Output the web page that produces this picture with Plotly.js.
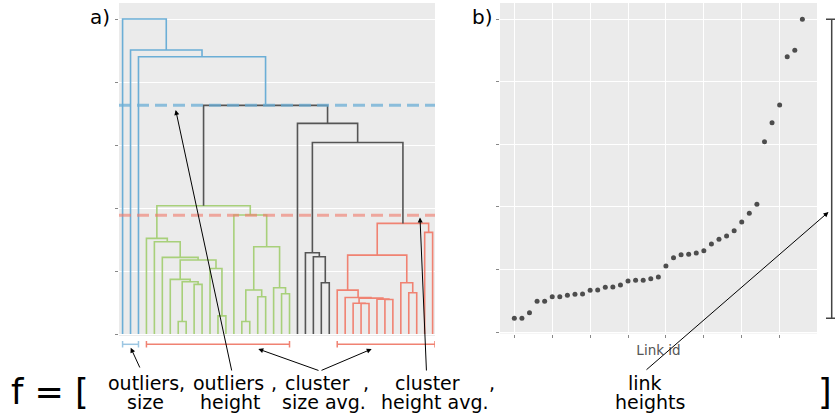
<!DOCTYPE html>
<html><head><meta charset="utf-8">
<script src="https://cdn.plot.ly/plotly-3.0.1.min.js"></script>
<style>html,body{margin:0;padding:0;background:#fff}</style>
</head><body><div id="chart" style="width:835px;height:418px"></div>
<script>
// ---- Panel a: dendrogram (hclust-style merges; negative = leaf position, positive = earlier merge id)
const mergeLeft   = [-8,-16,-13,-31,-30,-34,-33, 5,-29,-18,-21,-37,-28, 2,-20,-10,-36,-26, 1,-7,-12,20,-6,-25,13,-24,14,-5,-4,-39,25,-15,29,26,-23,33,-3,-2,-1];
const mergeRight  = [-9,-17,-14,-32,  4,-35,  6, 7,  8,-19,-22,-38,  9,10, 11,-11, 12,-27,16,19,  3,21,22, 18,17, 24,15,23,28,-40,30, 27,32,31, 34,35,36,37,38];
const mergeHeight = [0.20,0.20,0.29,0.485,0.49,0.55,0.555,0.571,0.582,0.593,0.64,0.656,0.698,0.70,0.735,0.789,0.815,0.815,0.831,0.868,1.042,1.175,1.217,1.228,1.254,1.29,1.386,1.465,1.519,1.614,1.757,1.889,2.037,3.04,3.344,3.63,4.40,4.508,5.0];
const mergeGroup  = ['g','g','g','r','r','r','r','r','r','g','g','r','r','g','g','g','r','k','g','g','g','g','g','k','r','k','g','g','g','r','r','g','g','k','k','k','b','b','b'];
const groupColor  = {b:'#6BAED6', g:'#A8D07A', r:'#F08272', k:'#555555'};
const outlierHeight = 3.63;
const clusterHeightAvg = 1.885;
const outlierSpan = [1, 3];
const clusterSpans = [[4, 22], [28, 40.3]];
const aTicks = [0,1,2,3,4,5];

// ---- Panel b: sorted link heights
const linkHeights = [0.219,0.219,0.308,0.49,0.49,0.564,0.564,0.586,0.602,0.607,0.666,0.671,0.714,0.719,0.751,0.815,0.826,0.826,0.851,0.879,1.054,1.187,1.235,1.241,1.262,1.299,1.406,1.481,1.534,1.618,1.757,1.896,2.04,3.04,3.344,3.626,4.398,4.5,4.995];
const linkId = linkHeights.map((_, i) => i + 1);
const bXTicks = [1,6,11,16,21,26,31,36];
const bYTicks = [0,1,2,3,4,5];

const W = 835, H = 418;
const px = x => x / W, py = y => 1 - y / H;

// build dendrogram segments
const nodeX = [], nodeH = [];
const segs = {};
for (const g in groupColor) segs[g] = {x: [], y: []};
function childPos(c) { return c < 0 ? [-c, 0] : [nodeX[c - 1], nodeH[c - 1]]; }
for (let i = 0; i < mergeLeft.length; i++) {
  const [xl, hl] = childPos(mergeLeft[i]);
  const [xr, hr] = childPos(mergeRight[i]);
  const h = mergeHeight[i];
  nodeX.push((xl + xr) / 2); nodeH.push(h);
  const s = segs[mergeGroup[i]];
  s.x.push(xl, xl, xr, xr, null);
  s.y.push(hl, h, h, hr, null);
}
const traces = [];
for (const g of ['g','r','k','b']) {
  traces.push({type:'scatter', mode:'lines', x: segs[g].x, y: segs[g].y, xaxis:'x', yaxis:'y',
    line:{color: groupColor[g], width:1.6}, hoverinfo:'skip', showlegend:false});
}
traces.push({type:'scatter', mode:'markers', x: linkId, y: linkHeights, xaxis:'x2', yaxis:'y2',
  marker:{color:'#4D4D4D', size:5}, hoverinfo:'skip', showlegend:false});

const shapes = [];
// dashed reference lines
shapes.push({type:'line', xref:'x domain', yref:'y', x0:0, x1:1, y0:outlierHeight, y1:outlierHeight,
  line:{color:'rgba(107,174,214,0.75)', width:3, dash:'12px,6px'}});
shapes.push({type:'line', xref:'x domain', yref:'y', x0:0, x1:1, y0:clusterHeightAvg, y1:clusterHeightAvg,
  line:{color:'rgba(240,120,105,0.6)', width:3, dash:'12px,6px'}});
// brackets under panel a
function bracket(x0, x1, color) {
  const yb = py(344.3);
  shapes.push({type:'line', xref:'x', yref:'paper', x0:x0, x1:x1, y0:yb, y1:yb, line:{color:color, width:1.5}});
  shapes.push({type:'line', xref:'x', yref:'paper', x0:x0, x1:x0, y0:py(341), y1:py(347.5), line:{color:color, width:1.5}});
  shapes.push({type:'line', xref:'x', yref:'paper', x0:x1, x1:x1, y0:py(341), y1:py(347.5), line:{color:color, width:1.5}});
}
bracket(outlierSpan[0], outlierSpan[1], '#9CC6E2');
for (const s of clusterSpans) bracket(s[0], s[1], '#F08272');
// bracket on right of panel b spanning link heights
const lhMin = Math.min(...linkHeights), lhMax = Math.max(...linkHeights);
shapes.push({type:'line', xref:'paper', yref:'y2', x0:px(831.7), x1:px(831.7), y0:lhMin, y1:lhMax, line:{color:'#444', width:1.5}});
shapes.push({type:'line', xref:'paper', yref:'y2', x0:px(826), x1:px(836), y0:lhMin, y1:lhMin, line:{color:'#444', width:1.5}});
shapes.push({type:'line', xref:'paper', yref:'y2', x0:px(826), x1:px(836), y0:lhMax, y1:lhMax, line:{color:'#444', width:1.5}});

const FONT = 'DejaVu Sans';
const annotations = [];
function txt(t, x, y, size, xanchor) {
  annotations.push({text:t, xref:'paper', yref:'paper', x:px(x), y:py(y), showarrow:false,
    xanchor: xanchor || 'center', yanchor:'middle', font:{family:FONT, size:size, color:'#000'}});
}
function arrow(hx, hy, tx, ty) {
  annotations.push({text:'', xref:'paper', yref:'paper', x:px(hx), y:py(hy), ax:tx - hx, ay:ty - hy,
    showarrow:true, arrowhead:2, arrowsize:1, arrowwidth:1, arrowcolor:'#000'});
}
txt('a)', 100, 17, 20);
txt('b)', 483, 17, 20);
txt('f = [', 9, 392, 35, 'left');
txt(']', 825, 392, 35);
const L1 = 383, L2 = 402, FS = 19;
txt('outliers,', 146, L1, FS); txt('size', 145, L2, FS);
txt('outliers', 229, L1, FS); txt('height', 231, L2, FS);
txt(',', 274, L1, FS);
txt('cluster', 317, L1, FS); txt('size avg.', 324, L2, FS);
txt(',', 366, L1, FS);
txt('cluster', 427, L1, FS); txt('height avg.', 435, L2, FS);
txt(',', 492, L1, FS);
txt('link', 645, L1, FS); txt('heights', 650, L2, FS);
arrow(130.7, 347.7, 140.5, 369);
arrow(175.7, 110, 232, 372);
arrow(258.3, 349, 320, 371);
arrow(371.7, 349, 320, 371);
arrow(420, 217.5, 426.5, 372);
arrow(828.5, 212, 645, 371);

const gridAxis = {showgrid:true, gridcolor:'#FFFFFF', gridwidth:1, zeroline:false, showline:false,
  showticklabels:false, ticks:'outside', ticklen:3, tickcolor:'#888', tickwidth:1, tickmode:'array'};

const layout = {
  width: W, height: H, margin:{l:0, r:0, t:0, b:0}, paper_bgcolor:'#FFFFFF', plot_bgcolor:'#EBEBEB',
  showlegend:false, font:{family:FONT},
  xaxis: {domain:[px(119), px(435)], range:[0.55, 40.3], showgrid:false, zeroline:false, showline:false,
    showticklabels:false, ticks:''},
  yaxis: Object.assign({}, gridAxis, {domain:[py(336), py(3)], range:[-0.03, 5.254], tickvals:aTicks}),
  xaxis2: Object.assign({}, gridAxis, {domain:[px(500), px(817)], range:[-0.89, 40.93], tickvals:bXTicks,
    anchor:'y2', title:{text:'Link id', font:{family:FONT, size:13.5, color:'#555'}, standoff:9}}),
  yaxis2: Object.assign({}, gridAxis, {domain:[py(333.5), py(3)], range:[-0.024, 5.256], tickvals:bYTicks, anchor:'x2'}),
  shapes: shapes, annotations: annotations
};
Plotly.newPlot('chart', traces, layout, {staticPlot:true, displayModeBar:false});
</script></body></html>
